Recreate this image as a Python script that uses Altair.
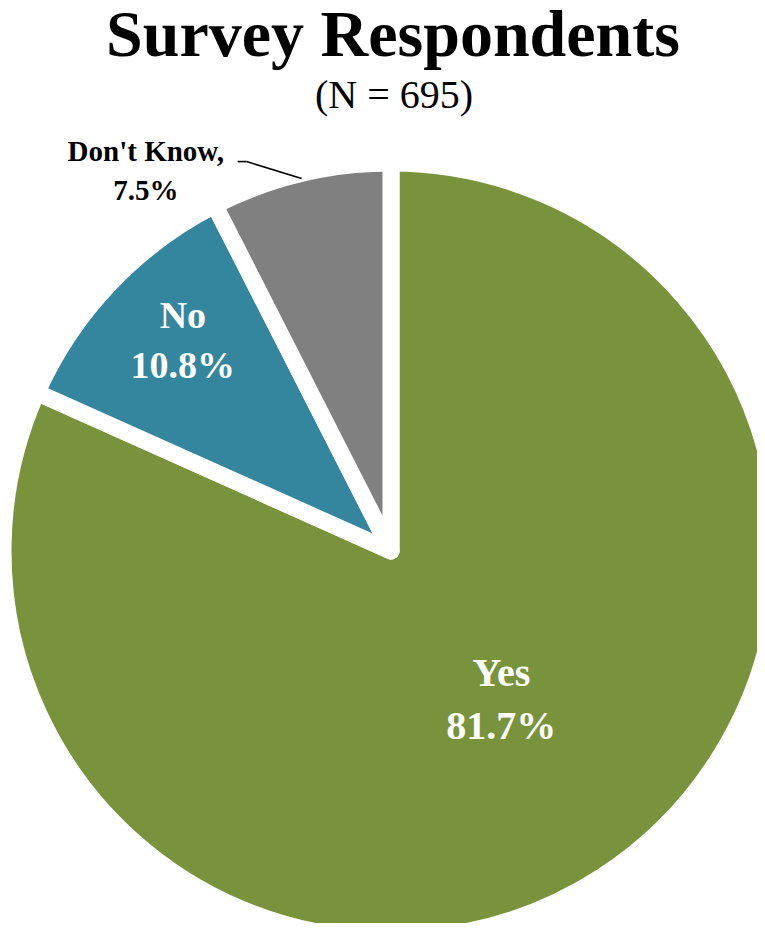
import math
import altair as alt
import pandas as pd

# ---- data ----
categories = ["Yes", "No", "Don't Know"]
values = [81.7, 10.8, 7.5]
colors = ["#78933C", "#33869E", "#808080"]
title_text = "Survey Respondents"
subtitle_text = "(N = 695)"

df = pd.DataFrame({
    "category": categories,
    "value": values,
    "idx": list(range(len(categories))),
})
df["label"] = [f"{c},\n{v}%" if c == "Don't Know" else f"{c}\n{v}%" for c, v in zip(categories, values)]

FONT = "Liberation Serif"
CX, CY = 383, 543
R_OUT = 388
TOTAL = sum(values)
theta_scale = alt.Scale(domain=[0, TOTAL], range=[0, 2 * math.pi])

arcs = alt.Chart(df).mark_arc(
    outerRadius=R_OUT, stroke="white", strokeWidth=17, strokeJoin="round"
).encode(
    theta=alt.Theta("value:Q", stack=True, scale=theta_scale),
    order=alt.Order("idx:Q"),
    color=alt.Color("category:N", scale=alt.Scale(domain=categories, range=colors), legend=None),
    x=alt.value(CX),
    y=alt.value(CY),
)

labels_base = alt.Chart(df).transform_window(
    cum="sum(value)", sort=[{"field": "idx"}], frame=[None, 0]
).transform_calculate(
    mid="datum.cum - datum.value / 2"
).encode(
    theta=alt.Theta("mid:Q", scale=theta_scale),
    text="label:N",
    x=alt.value(CX),
    y=alt.value(CY),
)

lab_yes = labels_base.mark_text(
    radius=190, font=FONT, fontWeight="bold", fontSize=40, color="white",
    lineBreak="\n", lineHeight=53, baseline="middle", align="center", dx=7, dy=-36
).transform_filter(alt.datum.category == "Yes")

lab_no = labels_base.mark_text(
    radius=290, font=FONT, fontWeight="bold", fontSize=38, color="white",
    lineBreak="\n", lineHeight=50, baseline="middle", align="center", dx=2, dy=-34
).transform_filter(alt.datum.category == "No")

lab_dk = labels_base.mark_text(
    radius=R_OUT + 20, font=FONT, fontWeight="bold", fontSize=29, color="black",
    lineBreak="\n", lineHeight=39, baseline="middle", align="center",
    dx=-150, dy=-2,
).transform_filter(alt.datum.category == "Don't Know")

# leader line for the "Don't Know" label, from the slice's mid angle
dk_mid = (sum(values[:2]) + values[2] / 2) / TOTAL
ang = dk_mid * 2 * math.pi
r_lead = 383
lx = CX + r_lead * math.sin(ang)
ly = CY - r_lead * math.cos(ang)
elbow_x, elbow_y = lx - 55, ly - 17

leader_df = pd.DataFrame({"x": [elbow_x - 9, elbow_x], "y": [elbow_y, elbow_y],
                          "x2": [elbow_x, lx], "y2": [elbow_y, ly]})
leaders = alt.Chart(leader_df).mark_rule(color="black", strokeWidth=1.6).encode(
    x=alt.X("x:Q", scale=None), y=alt.Y("y:Q", scale=None),
    x2="x2:Q", y2="y2:Q",
)

title_df = pd.DataFrame({"t": [title_text], "s": [subtitle_text]})
title = alt.Chart(title_df).mark_text(
    font=FONT, fontWeight="bold", fontSize=66, color="black", baseline="alphabetic", align="center"
).encode(text="t:N", x=alt.value(385), y=alt.value(48))
subtitle = alt.Chart(title_df).mark_text(
    font=FONT, fontWeight="normal", fontSize=40, color="black", baseline="alphabetic", align="center"
).encode(text="s:N", x=alt.value(386), y=alt.value(100))

chart = alt.layer(arcs, lab_yes, lab_no, lab_dk, leaders, title, subtitle).properties(
    width=749, height=915, padding=0, autosize="none"
).configure_view(stroke=None)

chart.save("out.html", embed_options={"renderer": "svg", "actions": False})
